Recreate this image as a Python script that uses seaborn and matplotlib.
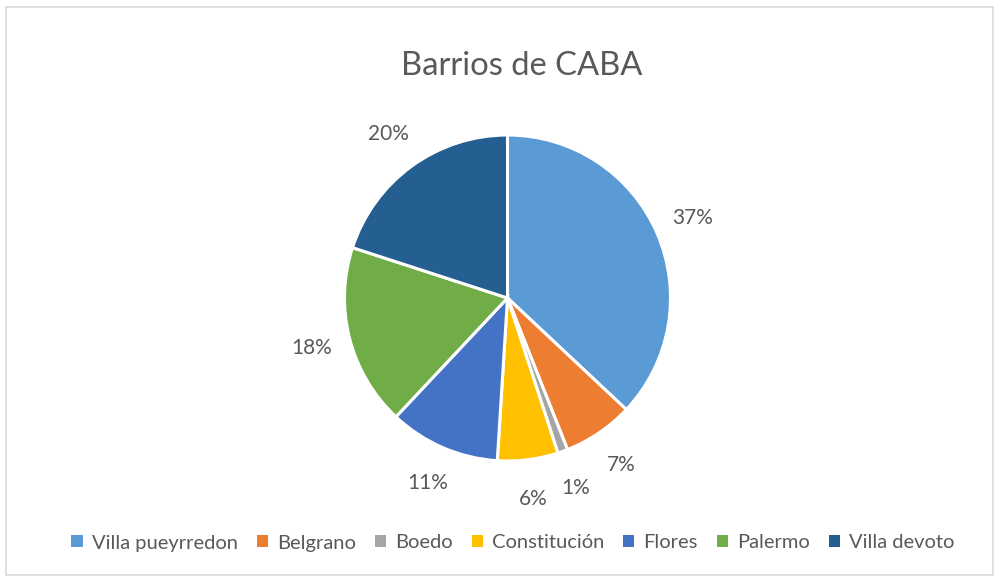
import matplotlib
matplotlib.use("Agg")
import matplotlib.pyplot as plt
import seaborn as sns
from matplotlib.patches import Rectangle

categories = ["Villa pueyrredon", "Belgrano", "Boedo", "Constitución", "Flores", "Palermo", "Villa devoto"]
values = [37, 7, 1, 6, 11, 18, 20]
colors = ["#5B9BD5", "#ED7D31", "#A5A5A5", "#FFC000", "#4472C4", "#70AD47", "#255E91"]
title = "Barrios de CABA"

sns.set_theme(style="white")
plt.rcParams["font.family"] = ["Lato", "DejaVu Sans"]
text_color = "#595959"

W, H = 994, 576
fig = plt.figure(figsize=(W / 100, H / 100), dpi=100)
fig.patch.set_facecolor("white")

# chart border
fig.patches.append(Rectangle((6 / W, 1 / H), 987 / W, 568 / H, transform=fig.transFigure,
                             fill=False, edgecolor="#D9D9D9", linewidth=1.2))

R = 163
cx, cy = 507.5, 298
lim = 1.4
side = 2 * lim * R
ax = fig.add_axes([(cx - side / 2) / W, (H - cy - side / 2) / H, side / W, side / H])

wedges, texts, autotexts = ax.pie(
    values, colors=colors, startangle=90, counterclock=False,
    autopct=lambda p: f"{p:.0f}%", pctdistance=1.24, radius=1,
    wedgeprops=dict(edgecolor="white", linewidth=2.2),
    textprops=dict(color=text_color, fontsize=15),
)
ax.set_xlim(-lim, lim)
ax.set_ylim(-lim, lim)
ax.set_aspect("equal")
ax.axis("off")

fig.text(522 / W, 1 - 66 / H, title, ha="center", va="center", fontsize=23.6, color=text_color)

handles = [Rectangle((0, 0), 1, 1, facecolor=c, edgecolor="none") for c in colors]
leg = fig.legend(handles, categories, loc="center", bbox_to_anchor=(513 / W, 1 - 543 / H),
                 ncol=7, frameon=False, fontsize=14.5, handlelength=0.55, handleheight=0.55,
                 handletextpad=0.45, columnspacing=0.95, labelcolor=text_color)

fig.savefig("out.png", dpi=100, facecolor="white")
